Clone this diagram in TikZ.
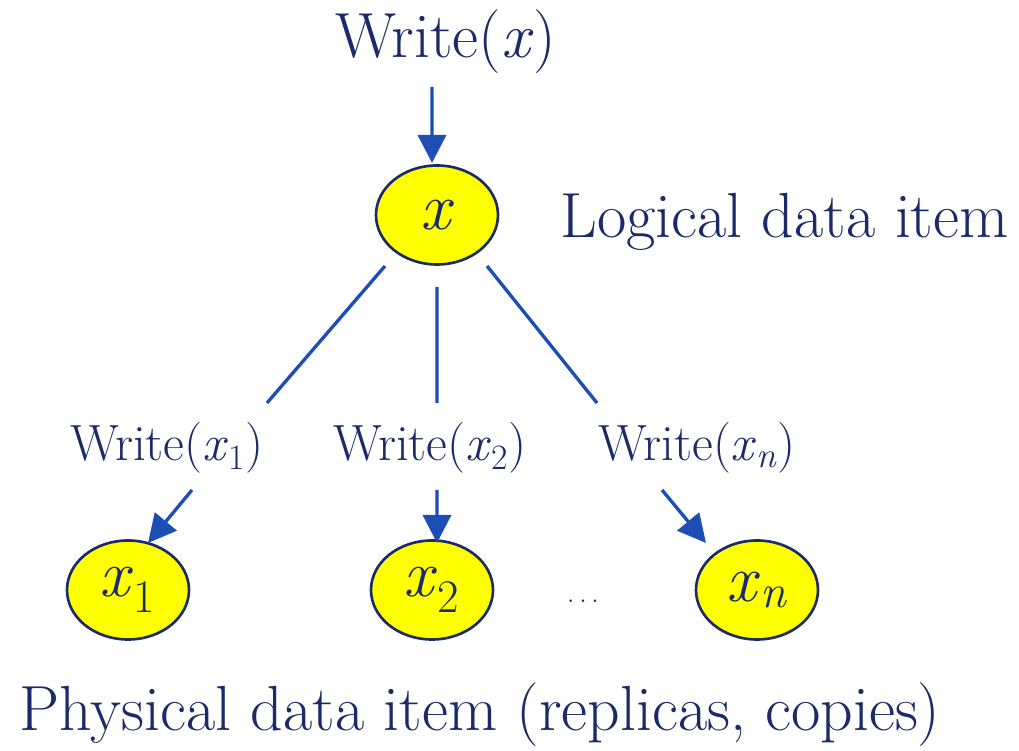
\documentclass[tikz,border=0pt]{standalone}
\usepackage{fontspec}
\usepackage{tikz}
\usetikzlibrary{arrows.meta, shapes.geometric}
\definecolor{inknavy}{HTML}{1B2A68}
\definecolor{wireblue}{HTML}{1D4EB5}
\definecolor{itemyellow}{HTML}{FFFF00}
\newcommand{\vx}[1][]{\textit{x}\textsubscript{\itshape#1}}
\newcommand{\vxd}[1]{\textit{x}\textsubscript{#1}}

\begin{document}
\begin{tikzpicture}[
    >={Triangle[length=5.6mm, width=5.6mm]},
    item/.style={ellipse, draw=inknavy, line width=1.5pt, fill=itemyellow,
      minimum width=2.44cm, minimum height=1.98cm, inner sep=0pt,
      text=inknavy, font=\fontsize{38}{44}\selectfont},
    big/.style={text=inknavy, font=\fontsize{36.3}{42}\selectfont, inner sep=0pt},
    small/.style={text=inknavy, font=\fontsize{29}{34}\selectfont, inner sep=0pt},
    link/.style={wireblue, line width=1.9pt},
    arr/.style={link, ->}]
  \useasboundingbox (0,0) rectangle (20.38,15.02);
  % the logical item and its write
  \node[big] (wx) at (8.92,14.18) {Write(\textit{x})};
  \node[item] (x) at (8.74,10.72) {\textit{x}};
  \node[big, anchor=west] (logical) at (11.2,10.58) {Logical data item};
  \draw[arr] ([shift={(-0.28,-0.9)}]wx.center) -- ([shift={(-0.1,1.04)}]x.center);
  % writes to the copies
  \node[small] (w1) at (3.34,6.06) {Write(\vxd{1})};
  \node[small] (w2) at (8.6,6.06) {Write(\vxd{2})};
  \node[small] (wn) at (13.94,6.06) {Write(\vx[n])};
  \draw[link] ([shift={(-1.04,-1.02)}]x.center) -- ([shift={(2.0,0.9)}]w1.center);
  \draw[link] ([shift={(0,-1.44)}]x.center) -- ([shift={(0.14,0.9)}]w2.center);
  \draw[link] ([shift={(1.0,-1.02)}]x.center) -- ([shift={(-2.0,0.9)}]wn.center);
  % the physical copies
  \node[item] (x1) at (2.56,3.22) {\vxd{1}};
  \node[item] (x2) at (8.64,3.22) {\vxd{2}};
  \node[item] (xn) at (15.14,3.22) {\vx[n]};
  \node[text=inknavy, font=\fontsize{18}{20}\selectfont, anchor=base, inner sep=0pt]
    (dots) at (11.66,2.96) {.\hskip2.4pt.\hskip2.4pt.};
  \draw[arr] ([shift={(0.5,-0.84)}]w1.center) -- ([shift={(0.4,0.94)}]x1.center);
  \draw[arr] ([shift={(0.14,-0.84)}]w2.center) -- ([shift={(0.1,0.94)}]x2.center);
  \draw[arr] ([shift={(-0.7,-0.84)}]wn.center) -- ([shift={(-1.02,0.94)}]xn.center);
  \node[big] (physical) at (9.6,0.72) {Physical data item (replicas, copies)};
\end{tikzpicture}
\end{document}
